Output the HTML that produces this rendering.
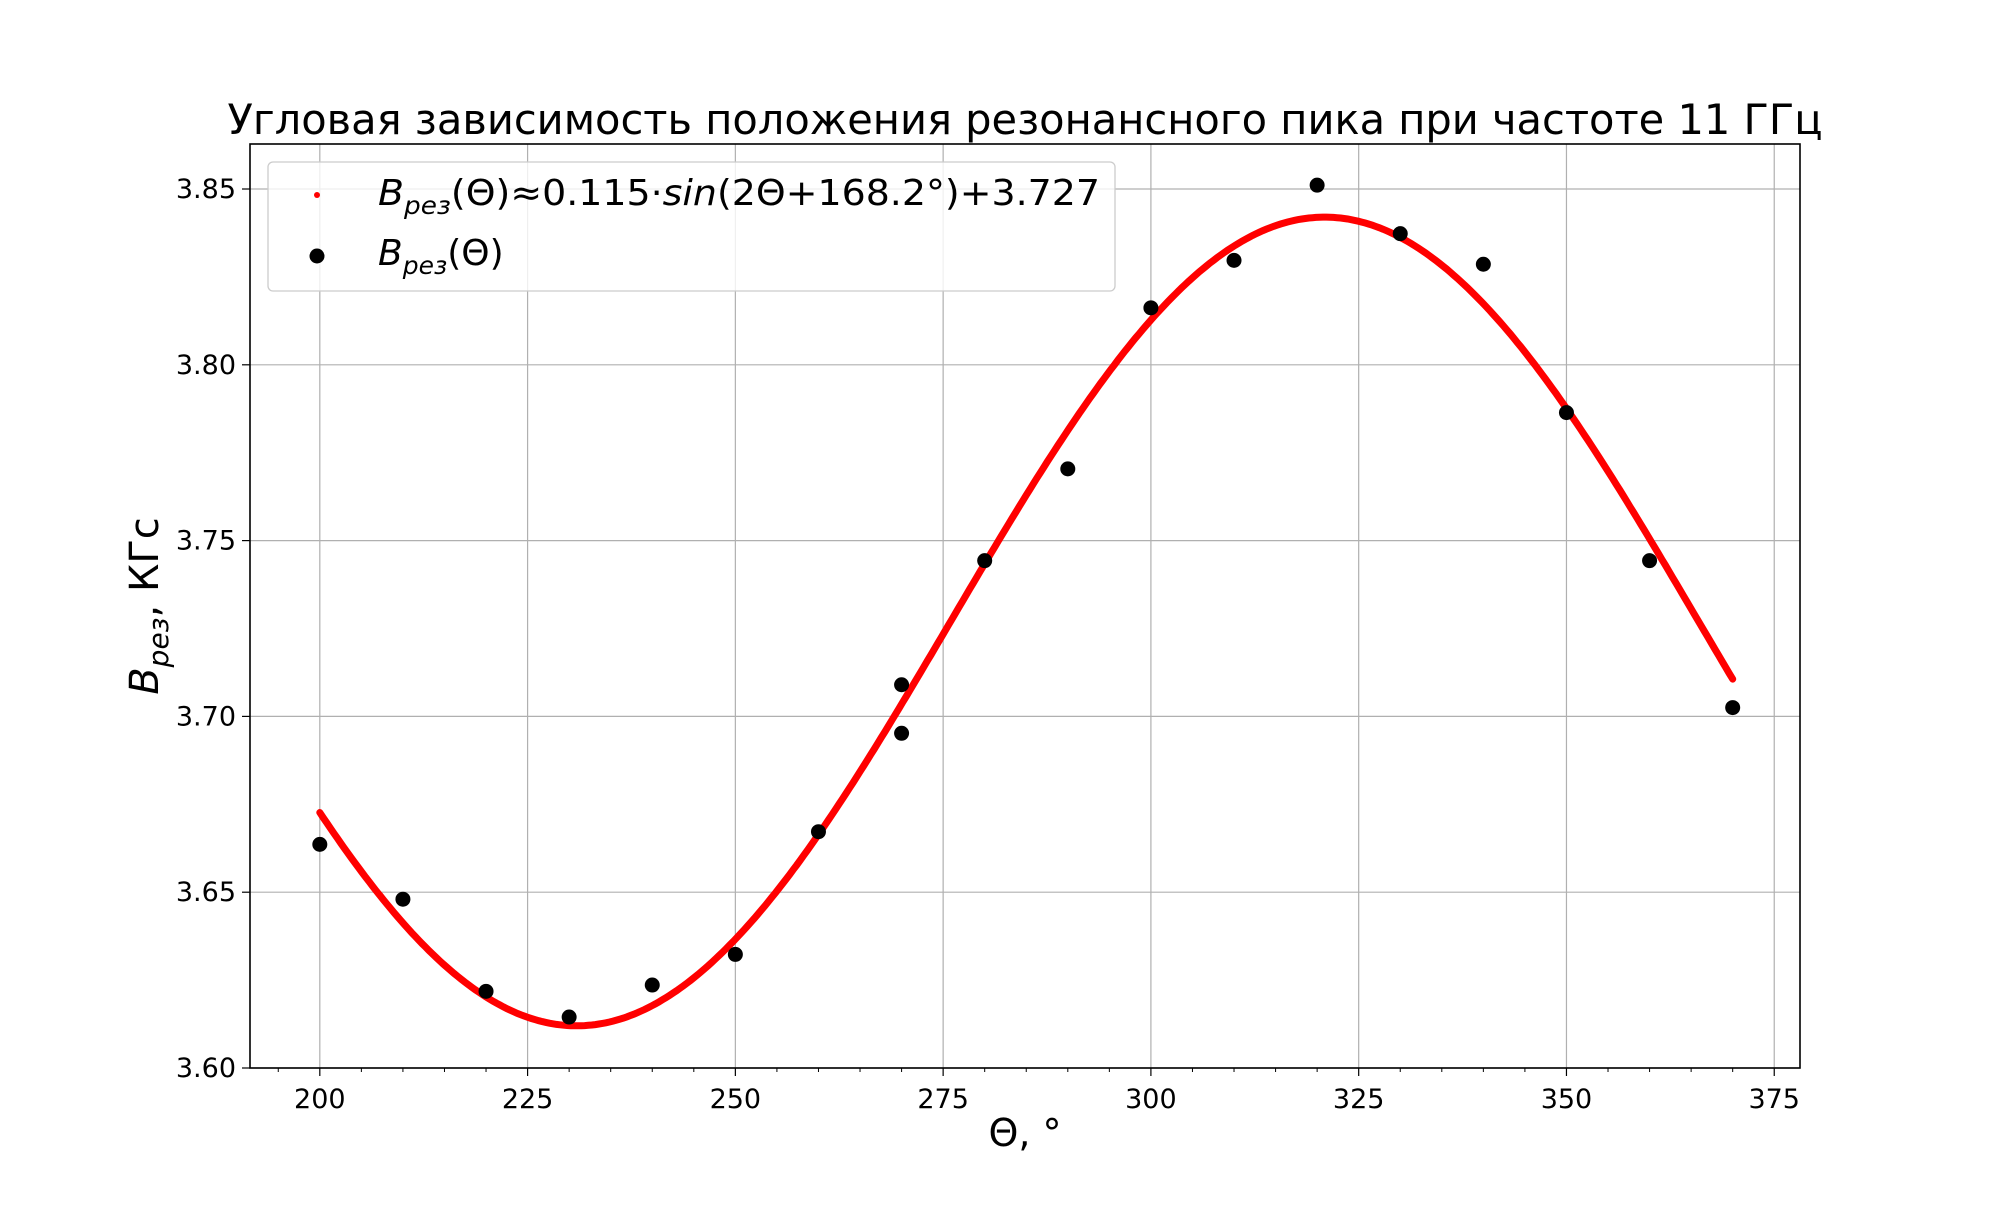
<!DOCTYPE html>
<html><head><meta charset="utf-8"><style>
html,body{margin:0;padding:0;background:#fff;}
svg text{font-family:"DejaVu Sans","Liberation Sans",sans-serif;}
</style></head><body>
<svg id="chart" width="2000" height="1200" xmlns="http://www.w3.org/2000/svg">
<text x="1025" y="134" font-size="42" text-anchor="middle" textLength="1595" lengthAdjust="spacingAndGlyphs">Угловая зависимость положения резонансного пика при частоте 11 ГГц</text>
<g id="grid"></g>
<g id="xticks"></g>
<g id="yticks"></g>
<g id="marks"></g>
<rect x="250" y="144" width="1550" height="924" fill="none" stroke="#000" stroke-width="1.6"/>
<text x="1025" y="1146" font-size="38" text-anchor="middle">Θ, °</text>
<text transform="translate(158,606) rotate(-90)" font-size="40" text-anchor="middle"><tspan font-style="italic">B</tspan><tspan font-style="italic" font-size="28" dy="10">рез</tspan><tspan dy="-10">, КГс</tspan></text>
<g>
<rect x="268" y="162" width="847" height="129" rx="5" fill="#fff" fill-opacity="0.8" stroke="#ccc" stroke-width="1.3"/>
<circle cx="317" cy="195" r="3" fill="red"/>
<text x="378" y="205" font-size="36" textLength="722" lengthAdjust="spacingAndGlyphs"><tspan font-style="italic">B</tspan><tspan font-style="italic" font-size="25" dy="9">рез</tspan><tspan dy="-9">(Θ)≈0.115·</tspan><tspan font-style="italic">sin</tspan><tspan>(2Θ+168.2°)+3.727</tspan></text>
<circle cx="317" cy="256" r="7.5" fill="#000"/>
<text x="378" y="265" font-size="36"><tspan font-style="italic">B</tspan><tspan font-style="italic" font-size="25" dy="9">рез</tspan><tspan dy="-9">(Θ)</tspan></text>
</g>
</svg>
<script>
const xTicks=[200,225,250,275,300,325,350,375];
const yTicks=[3.60,3.65,3.70,3.75,3.80,3.85];
const yTickLabels=["3.60","3.65","3.70","3.75","3.80","3.85"];
const thetaData=[200,210,220,230,240,250,260,270,270,280,290,300,310,320,330,340,350,360,370];
const bData=[3.6636,3.648,3.6218,3.6145,3.6236,3.6323,3.6672,3.709,3.6952,3.7443,3.7704,3.8162,3.8297,3.8511,3.8373,3.8286,3.7864,3.7443,3.7025];
const fitAmp=0.115, fitPhase=168.2, fitOffset=3.727;
const fitRange=[200,370];
const X0=250,X1=1800,Y0=1068,Y1=144,xmin=191.6,xmax=378.1,ymin=3.60,ymax=3.8628;
const sx=v=>X0+(v-xmin)/(xmax-xmin)*(X1-X0);
const sy=v=>Y0-(v-ymin)/(ymax-ymin)*(Y0-Y1);
const NS="http://www.w3.org/2000/svg";
function mk(tag,parent,attrs){const e=document.createElementNS(NS,tag);for(const k in attrs)e.setAttribute(k,attrs[k]);parent.appendChild(e);return e;}
const grid=document.getElementById('grid'),xg=document.getElementById('xticks'),yg=document.getElementById('yticks'),mg=document.getElementById('marks');
xTicks.forEach(t=>{const x=sx(t);
 if(x<X1){const g=mk('line',grid,{x1:x,x2:x,y1:Y1,y2:Y0,stroke:'#b0b0b0','stroke-width':1.2});
 }
 const tk=mk('line',xg,{x1:x,x2:x,y1:Y0,y2:Y0+8,stroke:'#000','stroke-width':1.2});
 
 const tx=mk('text',xg,{x:x,y:Y0+40,'font-size':27,'text-anchor':'middle'});tx.textContent=t;
 });
for(let t=195;t<=375;t+=5){if(t%25===0)continue;const x=sx(t);
 const m=mk('line',xg,{x1:x,x2:x,y1:Y0,y2:Y0+4,stroke:'#000','stroke-width':1});
 }
yTicks.forEach((t,i)=>{const y=sy(t);
 const g=mk('line',grid,{x1:X0,x2:X1,y1:y,y2:y,stroke:'#b0b0b0','stroke-width':1.2});
 
 const tk=mk('line',yg,{x1:X0-8,x2:X0,y1:y,y2:y,stroke:'#000','stroke-width':1.2});
 
 const tx=mk('text',yg,{x:X0-14,y:y+9,'font-size':27,'text-anchor':'end'});tx.textContent=yTickLabels[i];
 });
let pts=[];
for(let i=0;i<=400;i++){const th=fitRange[0]+(fitRange[1]-fitRange[0])*i/400;
 const v=fitAmp*Math.sin((2*th+fitPhase)*Math.PI/180)+fitOffset;pts.push(sx(th).toFixed(1)+','+sy(v).toFixed(1));}
const fl=mk('polyline',mg,{points:pts.join(' '),fill:'none',stroke:'red','stroke-width':7,'stroke-linecap':'round'});

thetaData.forEach((t,i)=>{const c=mk('circle',mg,{cx:sx(t),cy:sy(bData[i]),r:7.5,fill:'#000'});
 });
</script>
</body></html>
